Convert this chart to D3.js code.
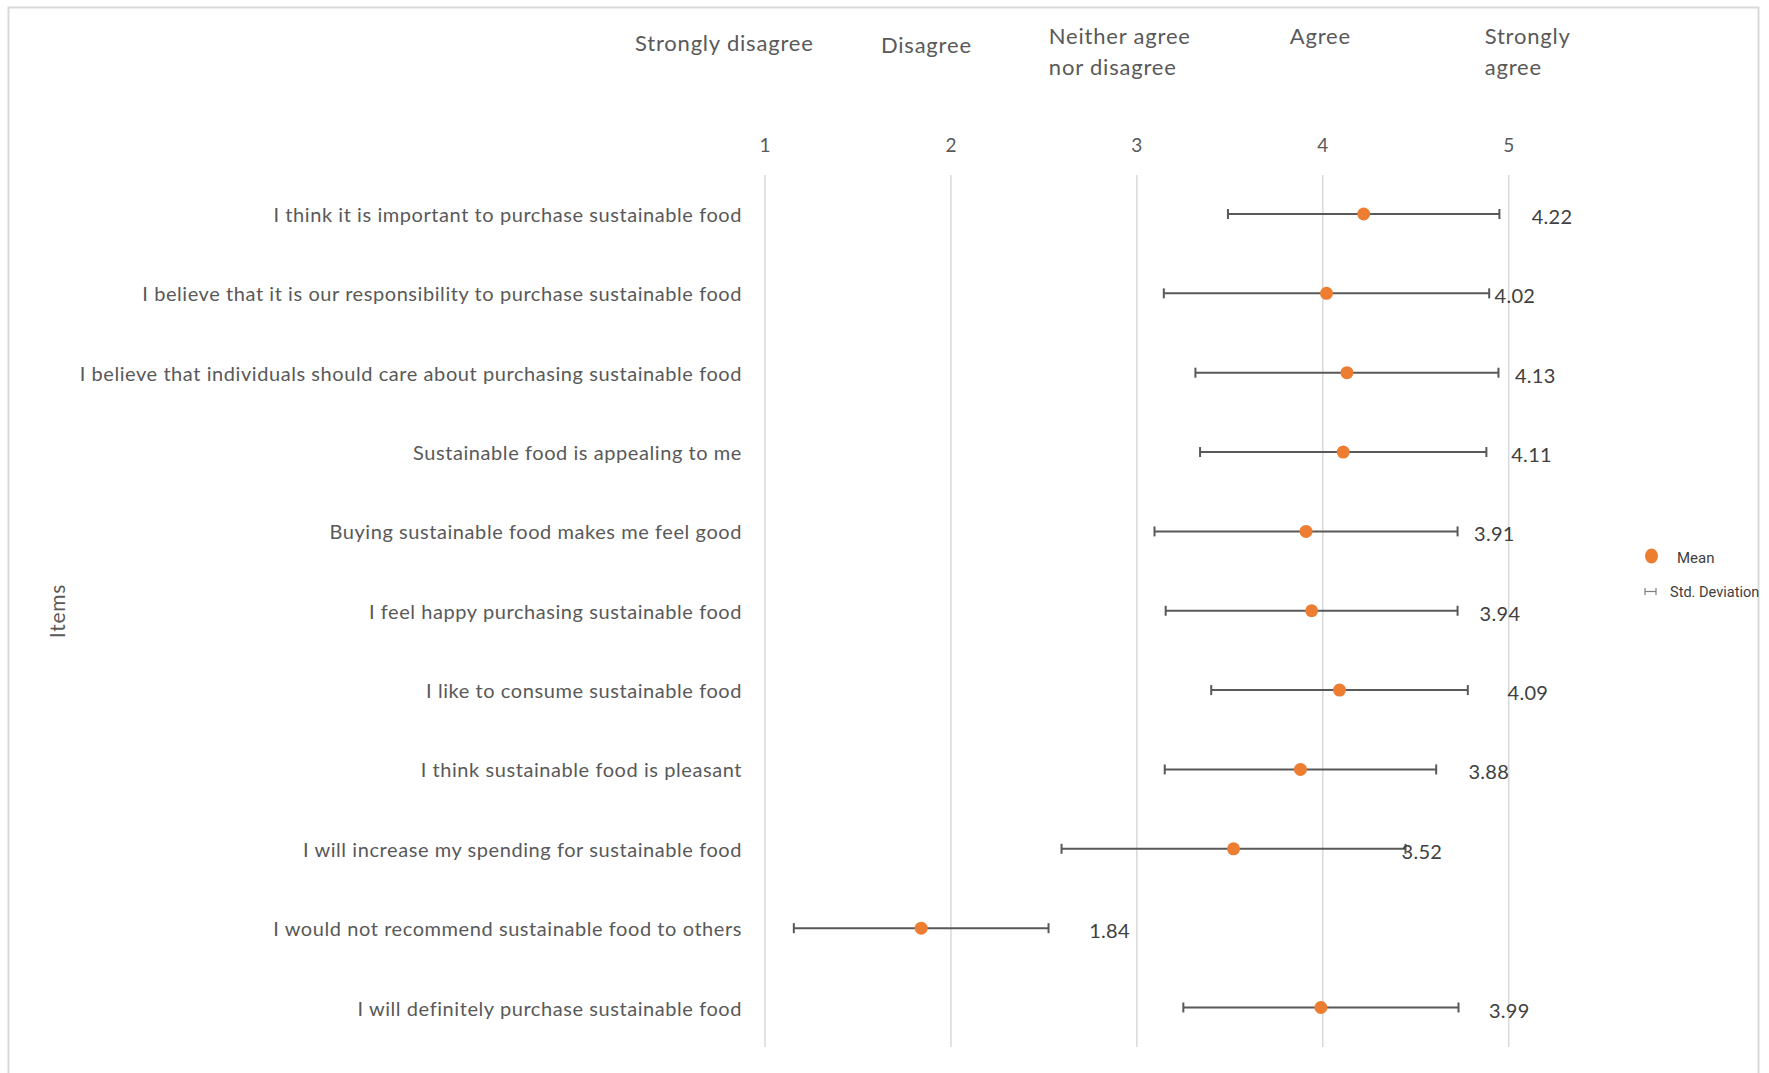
<!DOCTYPE html>
<html>
<head>
<meta charset="utf-8">
<script src="https://cdn.jsdelivr.net/npm/d3@7"></script>
<style>
  html, body { margin: 0; padding: 0; background: #fff; }
  svg { display: block; }
</style>
</head>
<body>
<svg id="chart" width="1769" height="1073"></svg>
<script>
// ---------- data ----------
const categories = [
  "I think it is important to purchase sustainable food",
  "I believe that it is our responsibility to purchase sustainable food",
  "I believe that individuals should care about purchasing sustainable food",
  "Sustainable food is appealing to me",
  "Buying sustainable food makes me feel good",
  "I feel happy purchasing sustainable food",
  "I like to consume sustainable food",
  "I think sustainable food is pleasant",
  "I will increase my spending for sustainable food",
  "I would not recommend sustainable food to others",
  "I will definitely purchase sustainable food"
];
const means = [4.22, 4.02, 4.13, 4.11, 3.91, 3.94, 4.09, 3.88, 3.52, 1.84, 3.99];
const stdDevs = [0.73, 0.875, 0.815, 0.77, 0.815, 0.785, 0.69, 0.73, 0.925, 0.685, 0.74];
const tickValues = [1, 2, 3, 4, 5];
const scaleLabels = [
  ["Strongly disagree"],
  ["Disagree"],
  ["Neither agree", "nor disagree"],
  ["Agree"],
  ["Strongly", "agree"]
];
const axisTitle = "Items";
const legendLabels = ["Mean", "Std. Deviation"];

// ---------- layout ----------
const W = 1769, H = 1073;
const FONT = "Lato, 'Open Sans', sans-serif";
const svg = d3.select("#chart");

// outer border
svg.append("rect")
  .attr("x", 8.5).attr("y", 7.5)
  .attr("width", 1750).attr("height", H + 20)
  .attr("fill", "#fff").attr("stroke", "#d9d9d9").attr("stroke-width", 2);

const x = d3.scaleLinear().domain([1, 5]).range([765, 1508.7]);
const y = d3.scalePoint().domain(categories).range([214, 1007.5]);

const gridTop = 175, gridBottom = 1047;

// gridlines
svg.append("g").selectAll("line").data(tickValues).join("line")
  .attr("x1", d => x(d)).attr("x2", d => x(d))
  .attr("y1", gridTop).attr("y2", gridBottom)
  .attr("stroke", "#d9d9d9").attr("stroke-width", 1.5);

// top tick numbers
svg.append("g").selectAll("text").data(tickValues).join("text")
  .attr("x", d => x(d)).attr("y", 144)
  .attr("text-anchor", "middle").attr("dominant-baseline", "central")
  .attr("font-family", FONT).attr("font-size", 19).attr("fill", "#595959")
  .text(d => d);

// scale description labels (text boxes above the numbers)
const headerOffsets = [-130, -70, -88, -33, -24];
const headerTop = [41.5, 43.5, 34.5, 34.5, 34.5];
const hdr = svg.append("g");
scaleLabels.forEach((lines, i) => {
  const t = hdr.append("text")
    .attr("font-family", FONT).attr("font-size", 22).attr("fill", "#595959")
    .attr("letter-spacing", 0.8)
    .attr("dominant-baseline", "central");
  lines.forEach((ln, j) => {
    t.append("tspan")
      .attr("x", x(tickValues[i]) + headerOffsets[i])
      .attr("y", headerTop[i] + j * 31.5)
      .text(ln);
  });
});

// category labels
svg.append("g").selectAll("text").data(categories).join("text")
  .attr("x", 742).attr("y", d => y(d))
  .attr("text-anchor", "end").attr("dominant-baseline", "central")
  .attr("font-family", FONT).attr("font-size", 20).attr("fill", "#595959")
  .attr("letter-spacing", 0.57)
  .text(d => d);

// axis title
svg.append("text")
  .attr("transform", `translate(56,611) rotate(-90)`)
  .attr("text-anchor", "middle").attr("dominant-baseline", "central")
  .attr("font-family", FONT).attr("font-size", 21).attr("fill", "#595959")
  .attr("letter-spacing", 0.8)
  .text(axisTitle);

// error bars
const rows = categories.map((c, i) => ({ c, m: means[i], s: stdDevs[i] }));
const eb = svg.append("g").attr("stroke", "#595959").attr("stroke-width", 2);
eb.selectAll("line.bar").data(rows).join("line").attr("class", "bar")
  .attr("x1", d => x(d.m - d.s)).attr("x2", d => x(d.m + d.s))
  .attr("y1", d => y(d.c)).attr("y2", d => y(d.c));
eb.selectAll("line.capl").data(rows).join("line").attr("class", "capl")
  .attr("x1", d => x(d.m - d.s)).attr("x2", d => x(d.m - d.s))
  .attr("y1", d => y(d.c) - 5).attr("y2", d => y(d.c) + 5);
eb.selectAll("line.capr").data(rows).join("line").attr("class", "capr")
  .attr("x1", d => x(d.m + d.s)).attr("x2", d => x(d.m + d.s))
  .attr("y1", d => y(d.c) - 5).attr("y2", d => y(d.c) + 5);

// mean points
svg.append("g").selectAll("circle").data(rows).join("circle")
  .attr("cx", d => x(d.m)).attr("cy", d => y(d.c)).attr("r", 6.5)
  .attr("fill", "#ED7D31");

// value labels
svg.append("g").selectAll("text").data(rows).join("text")
  .attr("x", d => x(d.m) + 168).attr("y", d => y(d.c) + 2)
  .attr("dominant-baseline", "central")
  .attr("font-family", FONT).attr("font-size", 20).attr("fill", "#404040")
  .attr("letter-spacing", 0.3)
  .text(d => d.m.toFixed(2));

// legend
const lg = svg.append("g");
lg.append("ellipse").attr("cx", 1651.5).attr("cy", 556).attr("rx", 6.5).attr("ry", 7.5)
  .attr("fill", "#ED7D31");
lg.append("text").attr("x", 1677).attr("y", 558).attr("dominant-baseline", "central")
  .attr("font-family", "Roboto, sans-serif").attr("font-size", 15).attr("fill", "#404040")
  .text(legendLabels[0]);
const sg = lg.append("g").attr("stroke", "#7f7f7f").attr("stroke-width", 1.2);
sg.append("line").attr("x1", 1645).attr("x2", 1656).attr("y1", 591.5).attr("y2", 591.5);
sg.append("line").attr("x1", 1645).attr("x2", 1645).attr("y1", 588).attr("y2", 595);
sg.append("line").attr("x1", 1656).attr("x2", 1656).attr("y1", 588).attr("y2", 595);
lg.append("text").attr("x", 1670).attr("y", 591.5).attr("dominant-baseline", "central")
  .attr("font-family", "Roboto, sans-serif").attr("font-size", 15).attr("fill", "#404040")
  .attr("transform", "translate(1670,591.5) scale(0.97,1) translate(-1670,-591.5)")
  .text(legendLabels[1]);
</script>
</body>
</html>
